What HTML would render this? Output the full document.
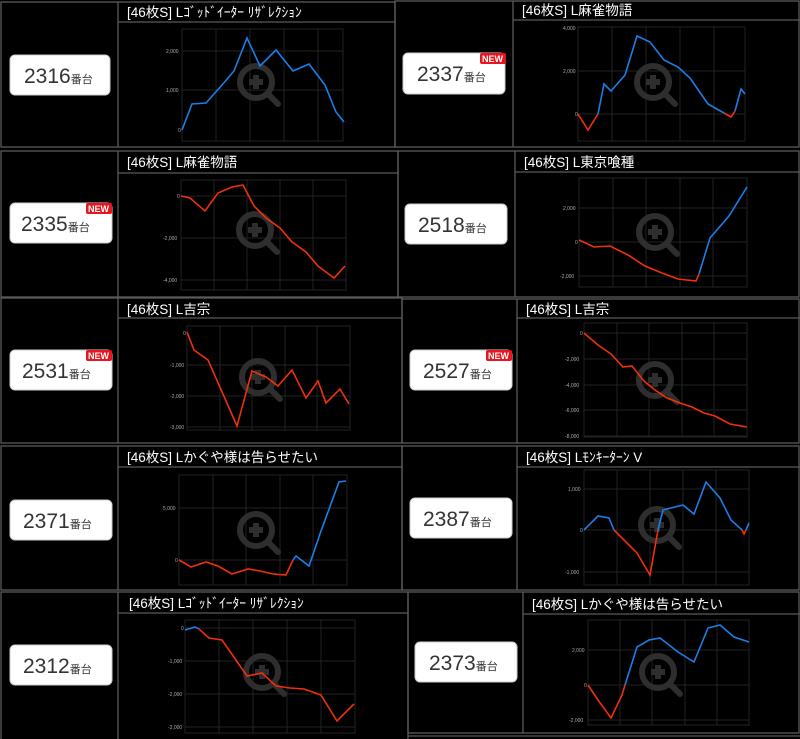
<!DOCTYPE html>
<html><head><meta charset="utf-8"><style>
body{margin:0;background:#000;width:800px;height:739px;overflow:hidden}
svg{display:block}
.t{font-family:"Liberation Sans","Noto Sans CJK JP",sans-serif;fill:#fff;font-size:13.5px}
.n{font-family:"Liberation Sans","Noto Sans CJK JP",sans-serif;fill:#333;font-size:21px}
.s{font-size:11px}
.ax{font-family:"Liberation Sans",sans-serif;fill:#aaa;font-size:5px}
.b{fill:none;stroke:#5a5a5a;stroke-width:1.3}
.g{stroke:#222;stroke-width:1}
.bl{fill:none;stroke:#1a7fe8;stroke-width:1.6}
.rd{fill:none;stroke:#f0300a;stroke-width:1.6}
.lb{fill:#fff;stroke:#ccc}
.nw{fill:#e8141e}
.nt{font-family:"Liberation Sans",sans-serif;font-weight:bold;fill:#fff;font-size:9px}
.m{fill:none;stroke:#2e2e2e;stroke-width:6}
</style></head><body>
<svg width="800" height="739" viewBox="0 0 800 739">
<defs>
<g id="mag"><circle cx="0" cy="0" r="16" class="m"/><line x1="12" y1="12" x2="22" y2="22" class="m" stroke-linecap="round"/><line x1="-7" y1="0" x2="7" y2="0" class="m"/><line x1="0" y1="-7" x2="0" y2="7" class="m"/></g>
</defs>

<!-- Row1 left -->
<rect x="1" y="2" width="394" height="145" class="b"/><line x1="118" y1="2" x2="118" y2="147" class="b"/><line x1="118" y1="22" x2="395" y2="22" class="b"/>
<text x="127" y="17" class="t">[46枚S] Lｺﾞｯﾄﾞｲｰﾀｰ ﾘｻﾞﾚｸｼｮﾝ</text>
<rect x="10" y="55" width="100" height="40" rx="5" class="lb"/><text x="24" y="83" class="n">2316<tspan class="s">番台</tspan></text>
<g class="g"><rect x="182" y="29" width="161" height="112" fill="none"/><line x1="216" y1="29" x2="216" y2="141"/><line x1="250" y1="29" x2="250" y2="141"/><line x1="284" y1="29" x2="284" y2="141"/><line x1="318" y1="29" x2="318" y2="141"/><line x1="182" y1="51" x2="343" y2="51"/><line x1="182" y1="90" x2="343" y2="90"/></g>
<text x="166" y="53" class="ax">2,000</text><text x="166" y="92" class="ax">1,000</text><text x="178" y="132" class="ax">0</text>
<use href="#mag" x="256" y="82"/>
<polyline class="bl" points="182,130 192,104 206,103 222,85 234,71 247,38 260,66 276,50 293,71 309,64 325,85 336,112 344,122"/>

<!-- Row1 right -->
<rect x="395" y="1" width="404" height="146" class="b"/><line x1="513" y1="1" x2="513" y2="147" class="b"/><line x1="513" y1="20" x2="800" y2="20" class="b"/>
<text x="522" y="15" class="t">[46枚S] L麻雀物語</text>
<rect x="403" y="53" width="102" height="41" rx="5" class="lb"/><text x="417" y="81" class="n">2337<tspan class="s">番台</tspan></text>
<rect x="480" y="53" width="26" height="11" rx="2" class="nw"/><text x="482" y="62" class="nt">NEW</text>
<g class="g"><rect x="578" y="27" width="167" height="114" fill="none"/><line x1="612" y1="27" x2="612" y2="141"/><line x1="646" y1="27" x2="646" y2="141"/><line x1="680" y1="27" x2="680" y2="141"/><line x1="714" y1="27" x2="714" y2="141"/><line x1="578" y1="71" x2="745" y2="71"/><line x1="578" y1="114" x2="745" y2="114"/></g>
<text x="563" y="30" class="ax">4,000</text><text x="563" y="73" class="ax">2,000</text><text x="575" y="116" class="ax">0</text>
<use href="#mag" x="653" y="82"/>
<polyline class="rd" points="578,114 588,130 598,114"/>
<polyline class="bl" points="598,114 604,84 611,91 625,75 637,36 650,42 664,60 678,67 690,78 708,104 724,113"/>
<polyline class="rd" points="724,113 731,117 735,111"/>
<polyline class="bl" points="735,111 741,89 745,94"/>

<!-- Row2 left -->
<rect x="1" y="151" width="397" height="146" class="b"/><line x1="118" y1="151" x2="118" y2="297" class="b"/><line x1="118" y1="173" x2="398" y2="173" class="b"/>
<text x="127" y="167" class="t">[46枚S] L麻雀物語</text>
<rect x="10" y="203" width="102" height="40" rx="5" class="lb"/><text x="21" y="231" class="n">2335<tspan class="s">番台</tspan></text>
<rect x="86" y="203" width="26" height="11" rx="2" class="nw"/><text x="88" y="212" class="nt">NEW</text>
<g class="g"><rect x="181" y="180" width="165" height="110" fill="none"/><line x1="214" y1="180" x2="214" y2="290"/><line x1="247" y1="180" x2="247" y2="290"/><line x1="280" y1="180" x2="280" y2="290"/><line x1="313" y1="180" x2="313" y2="290"/><line x1="181" y1="196" x2="346" y2="196"/><line x1="181" y1="238" x2="346" y2="238"/><line x1="181" y1="280" x2="346" y2="280"/></g>
<text x="177" y="198" class="ax">0</text><text x="163" y="240" class="ax">-2,000</text><text x="163" y="282" class="ax">-4,000</text>
<use href="#mag" x="255" y="230"/>
<polyline class="rd" points="181,196 190,198 205,211 218,193 232,187 243,185 254,206 266,218 280,228 292,242 306,252 318,266 334,278 345,266"/>

<!-- Row2 right -->
<rect x="398" y="151" width="401" height="146" class="b"/><line x1="515" y1="151" x2="515" y2="297" class="b"/><line x1="515" y1="172" x2="800" y2="172" class="b"/>
<text x="524" y="167" class="t">[46枚S] L東京喰種</text>
<rect x="405" y="204" width="102" height="40" rx="5" class="lb"/><text x="418" y="232" class="n">2518<tspan class="s">番台</tspan></text>
<g class="g"><rect x="579" y="178" width="168" height="109" fill="none"/><line x1="613" y1="178" x2="613" y2="287"/><line x1="646" y1="178" x2="646" y2="287"/><line x1="680" y1="178" x2="680" y2="287"/><line x1="713" y1="178" x2="713" y2="287"/><line x1="579" y1="208" x2="747" y2="208"/><line x1="579" y1="242" x2="747" y2="242"/><line x1="579" y1="276" x2="747" y2="276"/></g>
<text x="563" y="210" class="ax">2,000</text><text x="575" y="244" class="ax">0</text><text x="560" y="278" class="ax">-2,000</text>
<use href="#mag" x="655" y="232"/>
<polyline class="rd" points="579,240 594,247 610,246 628,255 645,266 662,273 678,279 696,281 699,274"/>
<polyline class="bl" points="699,274 710,238 729,216 747,187"/>

<!-- Row3 left -->
<rect x="1" y="298" width="401" height="145" class="b"/><line x1="118" y1="298" x2="118" y2="443" class="b"/><line x1="118" y1="318" x2="402" y2="318" class="b"/>
<text x="127" y="314" class="t">[46枚S] L吉宗</text>
<rect x="10" y="350" width="102" height="40" rx="5" class="lb"/><text x="22" y="378" class="n">2531<tspan class="s">番台</tspan></text>
<rect x="86" y="350" width="26" height="11" rx="2" class="nw"/><text x="88" y="359" class="nt">NEW</text>
<g class="g"><rect x="187" y="326" width="163" height="104" fill="none"/><line x1="220" y1="326" x2="220" y2="430"/><line x1="252" y1="326" x2="252" y2="430"/><line x1="285" y1="326" x2="285" y2="430"/><line x1="317" y1="326" x2="317" y2="430"/><line x1="187" y1="365" x2="350" y2="365"/><line x1="187" y1="396" x2="350" y2="396"/><line x1="187" y1="427" x2="350" y2="427"/></g>
<text x="183" y="335" class="ax">0</text><text x="170" y="367" class="ax">-1,000</text><text x="170" y="398" class="ax">-2,000</text><text x="170" y="429" class="ax">-3,000</text>
<use href="#mag" x="258" y="377"/>
<polyline class="rd" points="187,332 194,350 208,360 237,426 252,371 266,377 278,386 292,370 306,398 318,381 326,403 340,389 349,404"/>

<!-- Row3 right -->
<rect x="402" y="299" width="397" height="144" class="b"/><line x1="517" y1="299" x2="517" y2="443" class="b"/><line x1="517" y1="318" x2="800" y2="318" class="b"/>
<text x="526" y="314" class="t">[46枚S] L吉宗</text>
<rect x="410" y="350" width="102" height="40" rx="5" class="lb"/><text x="423" y="378" class="n">2527<tspan class="s">番台</tspan></text>
<rect x="486" y="350" width="26" height="11" rx="2" class="nw"/><text x="488" y="359" class="nt">NEW</text>
<g class="g"><rect x="584" y="323" width="163" height="114" fill="none"/><line x1="617" y1="323" x2="617" y2="437"/><line x1="649" y1="323" x2="649" y2="437"/><line x1="682" y1="323" x2="682" y2="437"/><line x1="714" y1="323" x2="714" y2="437"/><line x1="584" y1="333" x2="747" y2="333"/><line x1="584" y1="359" x2="747" y2="359"/><line x1="584" y1="385" x2="747" y2="385"/><line x1="584" y1="410" x2="747" y2="410"/><line x1="584" y1="436" x2="747" y2="436"/></g>
<text x="580" y="335" class="ax">0</text><text x="565" y="361" class="ax">-2,000</text><text x="565" y="387" class="ax">-4,000</text><text x="565" y="412" class="ax">-6,000</text><text x="565" y="438" class="ax">-8,000</text>
<use href="#mag" x="655" y="380"/>
<polyline class="rd" points="584,333 598,345 611,354 623,367 632,366 644,381 655,390 667,398 680,403 692,407 704,413 715,416 730,424 747,427"/>

<!-- Row4 left -->
<rect x="1" y="446" width="401" height="144" class="b"/><line x1="118" y1="446" x2="118" y2="590" class="b"/><line x1="118" y1="467" x2="402" y2="467" class="b"/>
<text x="127" y="462" class="t">[46枚S] Lかぐや様は告らせたい</text>
<rect x="10" y="500" width="102" height="40" rx="5" class="lb"/><text x="23" y="528" class="n">2371<tspan class="s">番台</tspan></text>
<g class="g"><rect x="179" y="475" width="168" height="110" fill="none"/><line x1="213" y1="475" x2="213" y2="585"/><line x1="246" y1="475" x2="246" y2="585"/><line x1="280" y1="475" x2="280" y2="585"/><line x1="313" y1="475" x2="313" y2="585"/><line x1="179" y1="508" x2="347" y2="508"/><line x1="179" y1="560" x2="347" y2="560"/></g>
<text x="163" y="510" class="ax">5,000</text><text x="175" y="562" class="ax">0</text>
<use href="#mag" x="256" y="530"/>
<polyline class="rd" points="179,560 191,567 206,562 218,566 232,574 248,569 260,571 273,574 286,575 293,560"/>
<polyline class="bl" points="293,560 296,556 309,566 321,531 339,482 346,481"/>

<!-- Row4 right -->
<rect x="402" y="446" width="397" height="144" class="b"/><line x1="517" y1="446" x2="517" y2="590" class="b"/><line x1="517" y1="467" x2="800" y2="467" class="b"/>
<text x="526" y="462" class="t">[46枚S] Lﾓﾝｷｰﾀｰﾝ V</text>
<rect x="410" y="498" width="102" height="40" rx="5" class="lb"/><text x="423" y="526" class="n">2387<tspan class="s">番台</tspan></text>
<g class="g"><rect x="584" y="470" width="165" height="115" fill="none"/><line x1="617" y1="470" x2="617" y2="585"/><line x1="650" y1="470" x2="650" y2="585"/><line x1="683" y1="470" x2="683" y2="585"/><line x1="716" y1="470" x2="716" y2="585"/><line x1="584" y1="489" x2="749" y2="489"/><line x1="584" y1="530" x2="749" y2="530"/><line x1="584" y1="572" x2="749" y2="572"/></g>
<text x="568" y="491" class="ax">1,000</text><text x="580" y="532" class="ax">0</text><text x="565" y="574" class="ax">-1,000</text>
<use href="#mag" x="657" y="525"/>
<polyline class="bl" points="584,530 598,516 609,518 614,530"/>
<polyline class="rd" points="614,530 621,537 637,553 650,575 658,530"/>
<polyline class="bl" points="658,530 663,510 683,505 694,514 706,482 720,498 731,520 742,530"/>
<polyline class="rd" points="742,530 744,534 746,530"/>
<polyline class="bl" points="746,530 749,523"/>

<!-- Row5 left -->
<rect x="1" y="592" width="407" height="150" class="b"/><line x1="118" y1="592" x2="118" y2="739" class="b"/><line x1="118" y1="613" x2="408" y2="613" class="b"/>
<text x="129" y="608" class="t">[46枚S] Lｺﾞｯﾄﾞｲｰﾀｰ ﾘｻﾞﾚｸｼｮﾝ</text>
<rect x="10" y="645" width="102" height="40" rx="5" class="lb"/><text x="23" y="673" class="n">2312<tspan class="s">番台</tspan></text>
<g class="g"><rect x="185" y="620" width="170" height="113" fill="none"/><line x1="219" y1="620" x2="219" y2="733"/><line x1="253" y1="620" x2="253" y2="733"/><line x1="287" y1="620" x2="287" y2="733"/><line x1="321" y1="620" x2="321" y2="733"/><line x1="185" y1="628" x2="355" y2="628"/><line x1="185" y1="661" x2="355" y2="661"/><line x1="185" y1="694" x2="355" y2="694"/><line x1="185" y1="727" x2="355" y2="727"/></g>
<text x="181" y="630" class="ax">0</text><text x="168" y="663" class="ax">-1,000</text><text x="168" y="696" class="ax">-2,000</text><text x="168" y="729" class="ax">-3,000</text>
<use href="#mag" x="262" y="672"/>
<polyline class="bl" points="185,630 195,627 199,629"/>
<polyline class="rd" points="199,629 209,638 222,640 247,676 262,673 276,686 290,688 304,689 321,695 337,721 354,704"/>

<!-- Row5 right -->
<rect x="408" y="592" width="391" height="141" class="b"/><line x1="523" y1="592" x2="523" y2="733" class="b"/><line x1="523" y1="614" x2="800" y2="614" class="b"/>
<text x="532" y="609" class="t">[46枚S] Lかぐや様は告らせたい</text>
<rect x="415" y="642" width="102" height="40" rx="5" class="lb"/><text x="429" y="670" class="n">2373<tspan class="s">番台</tspan></text>
<g class="g"><rect x="588" y="620" width="161" height="105" fill="none"/><line x1="620" y1="620" x2="620" y2="725"/><line x1="652" y1="620" x2="652" y2="725"/><line x1="685" y1="620" x2="685" y2="725"/><line x1="717" y1="620" x2="717" y2="725"/><line x1="588" y1="650" x2="749" y2="650"/><line x1="588" y1="685" x2="749" y2="685"/><line x1="588" y1="720" x2="749" y2="720"/></g>
<text x="572" y="652" class="ax">2,000</text><text x="584" y="687" class="ax">0</text><text x="569" y="722" class="ax">-2,000</text>
<use href="#mag" x="658" y="672"/>
<polyline class="rd" points="588,685 598,700 611,718 622,695 625,685"/>
<polyline class="bl" points="625,685 637,647 649,640 660,638 678,652 694,662 708,628 720,625 734,637 749,642"/>
<line x1="408" y1="736" x2="800" y2="736" class="b"/>
</svg>
</body></html>
